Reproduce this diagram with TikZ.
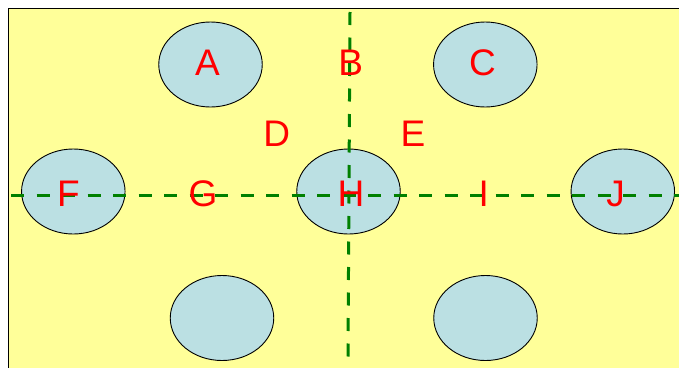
\documentclass[tikz,border=0pt]{standalone}
\usepackage{fontspec}
\setmainfont{Liberation Sans}
\usetikzlibrary{shapes.geometric}
\definecolor{bgyellow}{HTML}{FFFF99}
\definecolor{cellblue}{HTML}{BBE0E3}
\definecolor{lblred}{HTML}{FF0000}
\definecolor{lineGreen}{HTML}{008000}
\tikzset{
  cell/.style={ellipse, draw=black, line width=0.9pt, fill=cellblue,
    minimum width=103.5pt, minimum height=85pt, inner sep=0pt},
  lbl/.style={text=lblred, font=\fontsize{37}{40}\selectfont, inner sep=0pt, anchor=base},
  divider/.style={draw=lineGreen, line width=3pt, dash pattern=on 13pt off 12.5pt}
}
\begin{document}
\begin{tikzpicture}[x=1pt,y=-1pt]
\useasboundingbox (0,0) rectangle (679,367);
\clip (0,0) rectangle (679,367);
\draw[fill=bgyellow, draw=black, line width=1pt] (8.5,8.5) rectangle (700,400);
% cells
\node[cell] (eA) at (210.5,64.5) {};
\node[cell] (eC) at (485.3,64.5) {};
\node[cell] (eF) at (73.3,191.5) {};
\node[cell] (eH) at (348.5,191.5) {};
\node[cell] (eJ) at (622.8,191.5) {};
\node[cell] (eL) at (222,318) {};
\node[cell] (eR) at (485.5,318) {};
% dividers
\coordinate (vt) at (350,12);
\coordinate (vb) at (348,356.5);
\coordinate (hl) at (11,195);
\coordinate (hr) at (690,195);
\draw[divider] (vt) -- (vb);
\draw[divider] (hl) -- (hr);
% labels
\node[lbl] (lA) at (207.5,75) {A};
\node[lbl] (lB) at (350.8,75) {B};
\node[lbl] (lC) at (482.5,75) {C};
\node[lbl] (lD) at (276.7,146.5) {D};
\node[lbl] (lE) at (413,146) {E};
\node[lbl] (lF) at (68.5,206) {F};
\node[lbl] (lG) at (203,206) {G};
\node[lbl] (lH) at (351,206) {H};
\node[lbl] (lI) at (483.7,206) {I};
\node[lbl] (lJ) at (615.5,206) {J};
\end{tikzpicture}
\end{document}
